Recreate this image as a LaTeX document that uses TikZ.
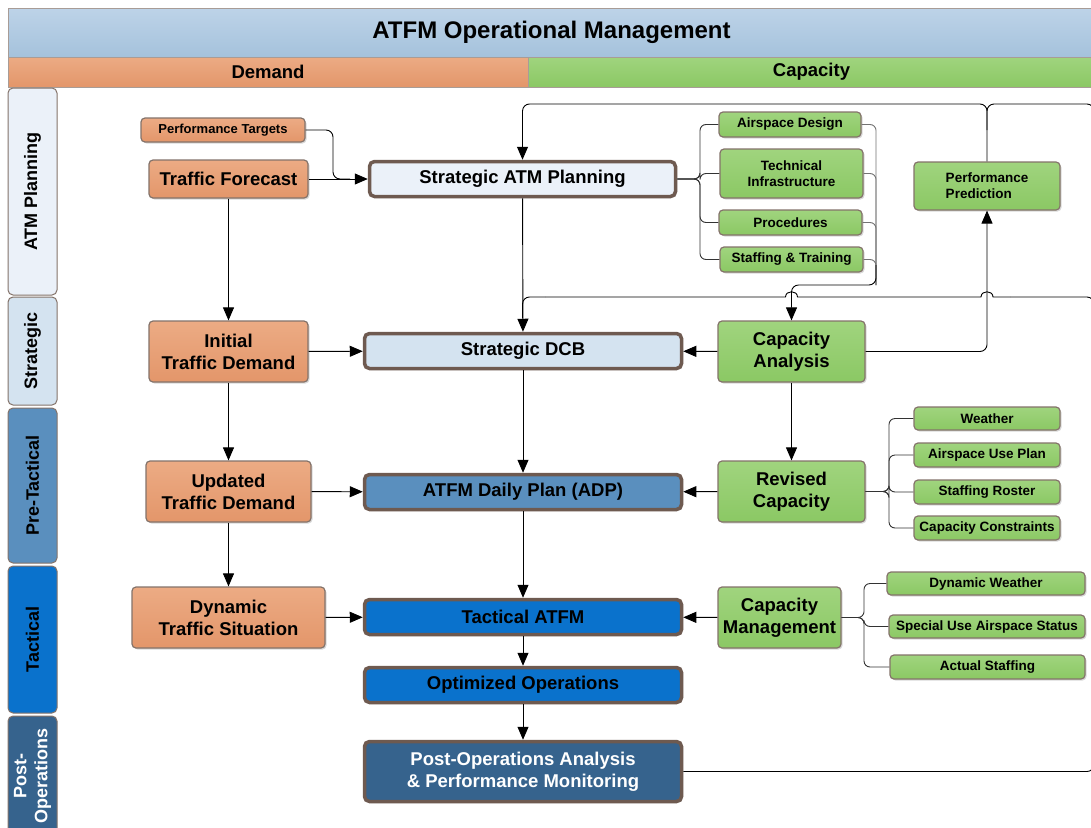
\documentclass[tikz,border=0pt]{standalone}
\usepackage{fontspec}
\setmainfont{Liberation Sans}
\usepackage{xcolor}
\usetikzlibrary{arrows.meta}
\usetikzlibrary{shadows}

\definecolor{brd}{HTML}{6E5A50}
\definecolor{dem}{HTML}{E3966A}
\definecolor{demlt}{HTML}{ECAB84}
\definecolor{capc}{HTML}{8BC864}
\definecolor{caplt}{HTML}{A0D47E}
\definecolor{ttl}{HTML}{A5C2DC}
\definecolor{ttllt}{HTML}{BDD3E8}
\definecolor{plan}{HTML}{EBF1F9}
\definecolor{strat}{HTML}{D4E3F0}
\definecolor{pretac}{HTML}{5A8FBE}
\definecolor{tac}{HTML}{0A72CC}
\definecolor{post}{HTML}{36638D}

\tikzset{
  bar/.style={draw=brd!60,line width=1pt,inner sep=0pt,font=\bfseries\fontsize{18.5}{22}\selectfont},
  box/.style={draw=brd!85,line width=1.2pt,rounded corners=4pt,align=center,inner sep=0pt,
    font=\bfseries\fontsize{18.5}{22}\selectfont,
    drop shadow={shadow xshift=1.5pt,shadow yshift=-1.5pt,opacity=.3}},
  dbox/.style={box,top color=demlt,bottom color=dem},
  cbox/.style={box,top color=caplt,bottom color=capc},
  sbox/.style={cbox,font=\bfseries\fontsize{13.5}{16}\selectfont},
  core/.style={box,draw=brd,line width=3.5pt,rounded corners=5pt},
  tab/.style={draw=brd!85,line width=1pt,rounded corners=5pt,minimum height=49,inner sep=0pt,
    rotate=90,align=center,font=\bfseries\fontsize{18}{21}\selectfont},
  ln/.style={line width=0.9pt,rounded corners=7pt},
  arr/.style={ln,-{Triangle[length=13pt,width=11pt]}},
  brn/.style={draw=black!80,line width=0.9pt,rounded corners=6pt},
}

\begin{document}
\begin{tikzpicture}[x=1pt,y=-1pt]
  \useasboundingbox (0,0) rectangle (1091,827);
  \fill[white] (0,0) rectangle (1091,827);

  % header
  \node[bar,top color=ttllt,bottom color=ttl,minimum width=1087,minimum height=49,
    font=\bfseries\fontsize{24}{27}\selectfont] (head) at (551.5,32.5) {ATFM Operational Management};
  \node[bar,top color=demlt,bottom color=dem,minimum width=520,minimum height=30] (dbar) at (268,72) {Demand};
  \node[bar,top color=caplt,bottom color=capc,minimum width=567,minimum height=30] (cbar) at (811.5,72) {Capacity};

  % phases
  \foreach \n/\y/\l/\c/\t in {ph1/191.5/207/plan/ATM Planning,ph2/351/108/strat/Strategic,
      ph3/485.5/155/pretac/Pre-Tactical,ph4/639.5/147/tac/Tactical}{
    \node[tab,fill=\c,minimum width=\l] (\n) at (32.5,\y) {\t};
  }
  \node[tab,fill=post,text=white,minimum width=119] (ph5) at (32.5,775.5) {Post-\\Operations};

  % demand
  \node[dbox,minimum width=164,minimum height=24,font=\bfseries\fontsize{13}{15.5}\selectfont] (pt) at (223,130) {Performance Targets};
  \node[dbox,minimum width=159,minimum height=38] (tf) at (228.5,179) {Traffic Forecast};
  \node[dbox,minimum width=159,minimum height=61] (itd) at (228.5,351.5) {Initial\\Traffic Demand};
  \node[dbox,minimum width=165,minimum height=61] (utd) at (228.5,491.5) {Updated\\Traffic Demand};
  \node[dbox,minimum width=193,minimum height=61] (dts) at (228.5,617.5) {Dynamic\\Traffic Situation};

  % centre
  \node[core,fill=plan,minimum width=306,minimum height=35] (satmp) at (522.5,179) {Strategic ATM Planning};
  \node[core,fill=strat,minimum width=317,minimum height=35] (sdcb) at (523,351) {Strategic DCB};
  \node[core,fill=pretac,minimum width=317,minimum height=35] (adp) at (523,492) {ATFM Daily Plan (ADP)};
  \node[core,fill=tac,minimum width=317,minimum height=35] (tatfm) at (523,617) {Tactical ATFM};
  \node[core,fill=tac,minimum width=317,minimum height=35] (oo) at (523,685) {Optimized Operations};
  \node[core,fill=post,text=white,minimum width=317,minimum height=60] (poa) at (523,771.5) {Post-Operations Analysis\\\& Performance Monitoring};

  % capacity
  \node[sbox,minimum width=142,minimum height=25] (asd) at (790,124.5) {Airspace Design};
  \node[sbox,minimum width=143,minimum height=49] (tinf) at (791.5,173.5) {Technical\\Infrastructure};
  \node[sbox,minimum width=143,minimum height=25] (proc) at (790.5,222.5) {Procedures};
  \node[sbox,minimum width=143,minimum height=25] (stt) at (791.5,259.5) {Staffing \& Training};
  \node[sbox,minimum width=146,minimum height=48,align=left] (pp) at (987,186) {Performance\\Prediction};
  \node[cbox,minimum width=147,minimum height=61] (ca) at (791.5,351.5) {Capacity\\Analysis};
  \node[cbox,minimum width=147,minimum height=61] (rc) at (791.5,491.5) {Revised\\Capacity};
  \node[cbox,minimum width=123,minimum height=61] (cm) at (779.5,617.5) {Capacity\\Management};
  \node[sbox,minimum width=146,minimum height=23] (wx) at (987,418.5) {Weather};
  \node[sbox,minimum width=146,minimum height=24] (aup) at (987,455) {Airspace Use Plan};
  \node[sbox,minimum width=146,minimum height=24] (sr) at (987,492) {Staffing Roster};
  \node[sbox,minimum width=146,minimum height=24] (cc) at (987,528) {Capacity Constraints};
  \node[sbox,minimum width=198,minimum height=23] (dw) at (986,583.5) {Dynamic Weather};
  \node[sbox,minimum width=196,minimum height=23] (sua) at (987,626.5) {Special Use Airspace Status};
  \node[sbox,minimum width=195,minimum height=24] (as) at (987.5,667) {Actual Staffing};

  % demand flow
  \draw[ln] (pt.east) -- (333,130) -- (333,179) -- (350,179);
  \draw[arr] (tf) -- (satmp);
  \draw[arr] (tf) -- (itd);
  \draw[arr] (itd) -- (utd);
  \draw[arr] (utd) -- (dts);
  \draw[arr] (itd) -- (sdcb);
  \draw[arr] (utd) -- (adp);
  \draw[arr] (dts) -- (tatfm);

  % centre flow
  \draw[arr] (satmp) -- (sdcb);
  \draw[arr] (sdcb) -- (adp);
  \draw[arr] (adp) -- (tatfm);
  \draw[arr] (tatfm) -- (oo);
  \draw[arr] (oo) -- (poa);

  % capacity flow
  \foreach \b in {asd,tinf,proc,stt}{
    \draw[brn] (satmp.east) -- (700,179) |- (\b.west);
    \draw[brn,draw=black!55] (\b.east) -| (876,285);
  }
  \draw[arr] (876,265) -- (876,285) -| (ca.north);
  \draw[arr] (ca) -- (sdcb);
  \draw[arr] (ca) -- (rc);
  \draw[arr] (rc) -- (adp);
  \draw[arr] (cm) -- (tatfm);
  \draw[arr] (ca.east) -| (pp.south);
  \draw[arr] (pp.north) |- (522.5,104) -- (satmp.north);
  \foreach \b in {wx,aup,sr,cc}
    \draw[brn] (rc.east) -- (889,491.5) |- (\b.west);
  \foreach \b in {dw,sua,as}
    \draw[brn] (cm.east) -- (864,617.5) |- (\b.west);

  % feedback
  \draw[ln] (poa.east) -- (1094,771.5) -- (1094,104) -- (987,104) -- (987,130);
  \draw[ln] (1094,320) -- (1094,297) -- (1010,297);
  \draw[ln,sharp corners] (1010,297) -- (993,297) .. controls (993,290) and (981,290) .. (981,297)
    -- (797.5,297) .. controls (797.5,290) and (785.5,290) .. (785.5,297) -- (545,297);
  \draw[ln] (545,297) -- (522.5,297) -- (522.5,318);
\end{tikzpicture}
\end{document}
